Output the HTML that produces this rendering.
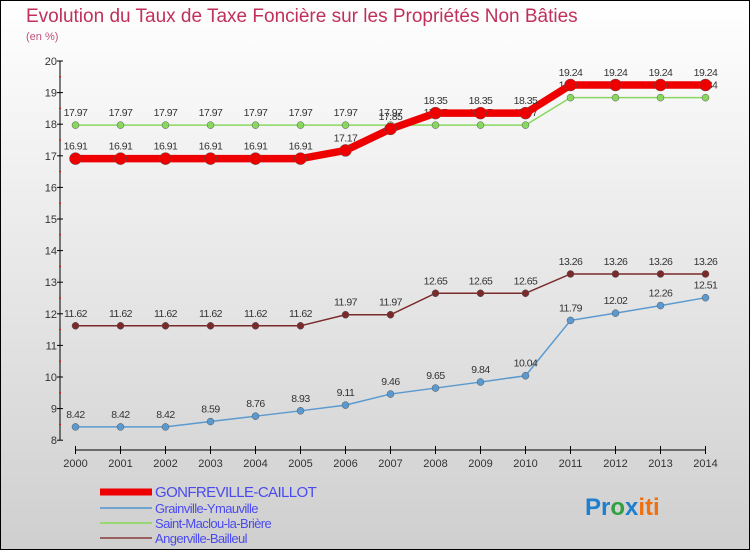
<!DOCTYPE html>
<html><head><meta charset="utf-8"><style>
body{margin:0;font-family:"Liberation Sans",sans-serif}
svg text{font-family:"Liberation Sans",sans-serif}
</style></head><body>
<svg width="750" height="550" xmlns="http://www.w3.org/2000/svg">
<defs><linearGradient id="bg" x1="0" y1="0" x2="0" y2="1"><stop offset="0" stop-color="#ffffff"/><stop offset="1" stop-color="#cfcfcf"/></linearGradient></defs>
<rect x="0.5" y="0.5" width="749" height="549" fill="url(#bg)" stroke="#000"/>
<text x="26" y="22" font-size="19" fill="#c0305a">Evolution du Taux de Taxe Foncière sur les Propriétés Non Bâties</text>
<text x="26" y="40" font-size="11" fill="#c0507a">(en %)</text>
<g id="axes"></g>
<g id="series"></g>
<g id="legend"></g>
<text x="585" y="515" font-size="24" font-weight="bold"><tspan fill="#1e7fd0">Pr</tspan><tspan fill="#30a040">o</tspan><tspan fill="#1e7fd0">x</tspan><tspan fill="#f07010">iti</tspan></text>
</svg>
<script>
const years=[2000,2001,2002,2003,2004,2005,2006,2007,2008,2009,2010,2011,2012,2013,2014];
const gonfreville=[16.91,16.91,16.91,16.91,16.91,16.91,17.17,17.85,18.35,18.35,18.35,19.24,19.24,19.24,19.24];
const grainville=[8.42,8.42,8.42,8.59,8.76,8.93,9.11,9.46,9.65,9.84,10.04,11.79,12.02,12.26,12.51];
const saintMaclou=[17.97,17.97,17.97,17.97,17.97,17.97,17.97,17.97,17.97,17.97,17.97,18.84,18.84,18.84,18.84];
const angerville=[11.62,11.62,11.62,11.62,11.62,11.62,11.97,11.97,12.65,12.65,12.65,13.26,13.26,13.26,13.26];
const yTicks=[8,9,10,11,12,13,14,15,16,17,18,19,20];
const NS="http://www.w3.org/2000/svg";
const X=i=>75.5+i*45, Y=v=>61+(20-v)*31.6;
function mk(t,a,p){const e=document.createElementNS(NS,t);for(const k in a)e.setAttribute(k,a[k]);p.appendChild(e);return e;}
const ax=document.getElementById('axes');
let l=mk('line',{x1:60,y1:Y(20),x2:60,y2:Y(8),stroke:'#000'},ax);


l=mk('line',{x1:X(0),y1:450,x2:X(14),y2:450,stroke:'#000'},ax);


yTicks.forEach(v=>{
 mk('line',{x1:57,y1:Y(v),x2:63,y2:Y(v),stroke:'#000'},ax);
 if(v<20)mk('line',{x1:59,y1:Y(v+0.5),x2:61,y2:Y(v+0.5),stroke:'#f00'},ax);
 const t=mk('text',{x:57,y:Y(v)+4,'font-size':11,'text-anchor':'end',fill:'#333'},ax);t.textContent=v;
 
 
});
years.forEach((yr,i)=>{
 mk('line',{x1:X(i),y1:446,x2:X(i),y2:454,stroke:'#000'},ax);
 const t=mk('text',{x:X(i),y:467,'font-size':11,'text-anchor':'middle',fill:'#333'},ax);t.textContent=yr;
 
 
});
const sg=document.getElementById('series');
function series(vals,color,w,r,name,dy){
 const g=mk('g',{},sg);
 
 
 mk('polyline',{points:vals.map((v,i)=>X(i)+','+Y(v)).join(' '),fill:'none',stroke:color,'stroke-width':w},g);
 vals.forEach((v,i)=>{
  const c=mk('circle',{cx:X(i),cy:Y(v),r:r,fill:color,stroke:'#555','stroke-width':0.5},g);
  
  
  const t=mk('text',{x:X(i),y:Y(v)+dy,'font-size':10.5,'text-anchor':'middle',fill:'#333','letter-spacing':'-0.5'},g);t.textContent=v;
  
  
 });
}
series(saintMaclou,'#88d860',1.5,3.5,'series-saint-maclou',-9);
series(angerville,'#7a2a2a',1.5,3.5,'series-angerville',-9);
series(grainville,'#5a9ad0',1.5,3.5,'series-grainville',-9);
series(gonfreville,'#ee0000',7.5,6,'series-gonfreville',-9);
const lg=document.getElementById('legend');
const legendY=[492,508,523,538];
[['GONFREVILLE-CAILLOT','#ee0000',7,15],['Grainville-Ymauville','#6fa4d0',2,13],['Saint-Maclou-la-Brière','#98d870',2,13],['Angerville-Bailleul','#9a6060',2,13]].forEach((d,i)=>{
 const y=legendY[i];
 const g=mk('g',{},lg);
 
 
 mk('line',{x1:100,y1:y,x2:152,y2:y,stroke:d[1],'stroke-width':d[2]},g);
 const t=mk('text',{x:155,y:y+5,'font-size':d[3],fill:'#4a4af0','letter-spacing':'-0.6'},g);t.textContent=d[0];
});
</script>
</body></html>
